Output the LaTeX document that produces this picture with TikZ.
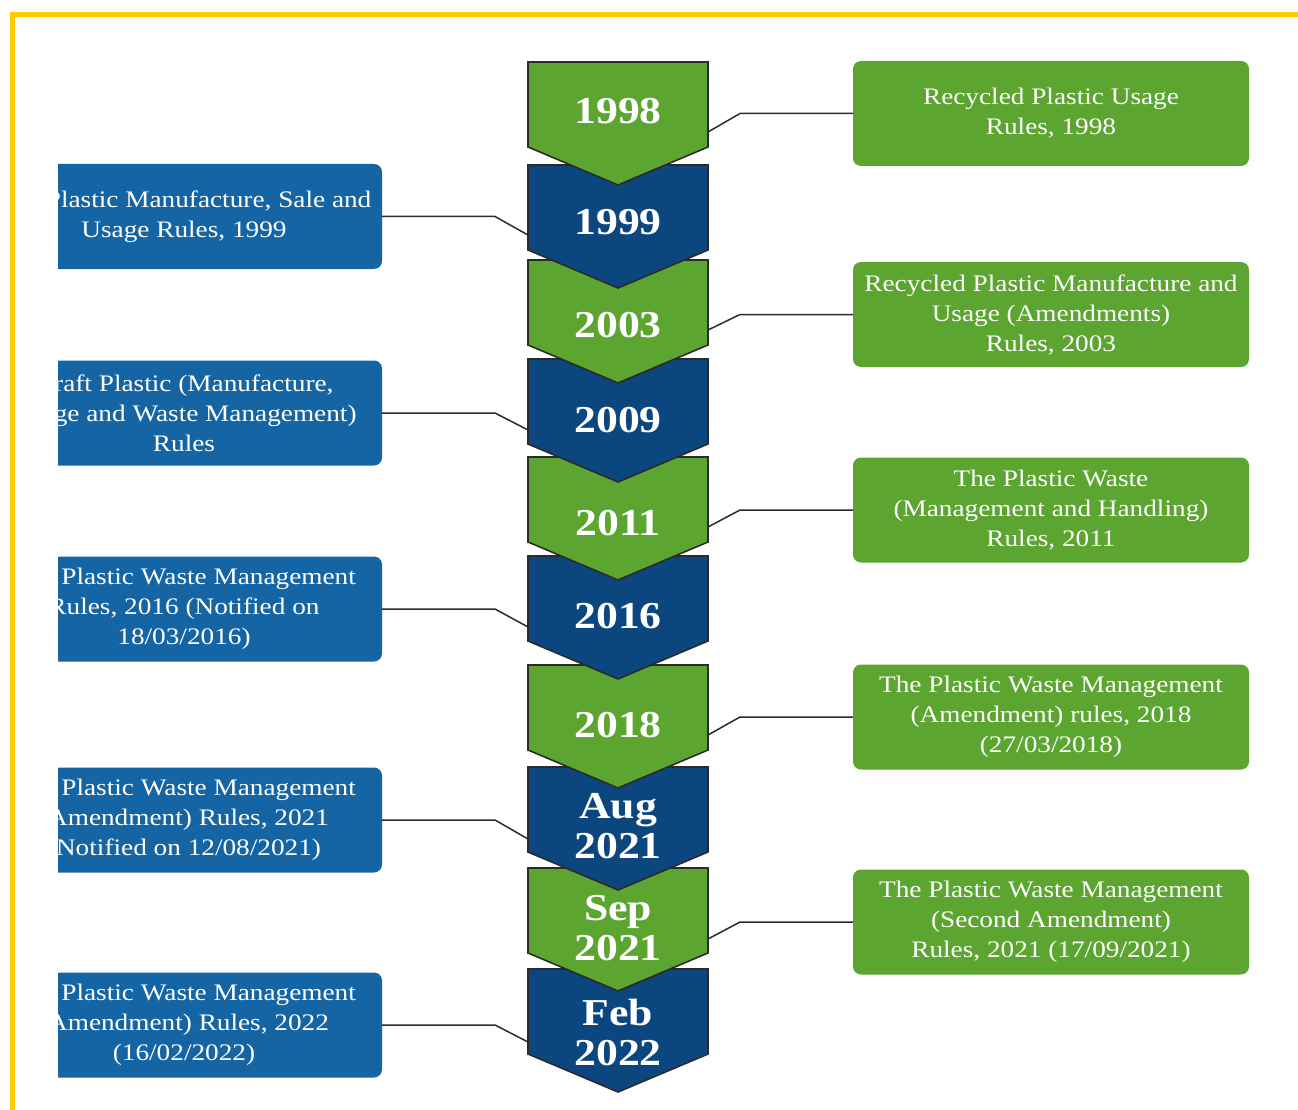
\documentclass[tikz,border=0pt]{standalone}
\usepackage{fontspec}
\setmainfont{Liberation Serif}[FakeStretch=1.15]
\usepackage{tikz}
\usetikzlibrary{shapes,positioning}

\definecolor{LeafGreen}{HTML}{5BA530}
\definecolor{DeepBlue}{HTML}{0B477E}
\definecolor{RuleBlue}{HTML}{1565A5}
\definecolor{FrameGold}{HTML}{FFCB05}
\definecolor{Edge}{HTML}{2B2B2B}

% one down-pointing step of the time line: #1 = top, #2 = fill
\newcommand{\chevron}[2]{%
	\filldraw [Chevron, fill=#2] (528,#1) -- (708,#1) -- (708,#1+85) -- (618,#1+123) -- (528,#1+85) -- cycle;}

\begin{document}
\begin{tikzpicture}[x=1pt,y=-1pt]
			\tikzstyle{Chevron}	= [draw=Edge, line width=1.6pt]
			\tikzstyle{Year}	= [text=white, font=\fontsize{38}{40}\selectfont\bfseries, align=center, inner sep=0pt]
			\tikzstyle{Rule}	= [rounded corners=8pt, minimum width=396pt, minimum height=105pt, inner sep=0pt, text=white, align=center, font=\fontsize{23.7}{30}\selectfont]
			\tikzstyle{GreenRule}	= [Rule, fill=LeafGreen]
			\tikzstyle{BlueRule}	= [Rule, fill=RuleBlue]
			\tikzstyle{Link}	= [draw=Edge, line width=1.5pt]
			
			\useasboundingbox (0,0) rectangle (1298,1110);
			\draw [FrameGold, line width=5pt] (12.5,1110) -- (12.5,14.5) -- (1298,14.5);
			
			% rules on the right
			\node (r1998) at (1051,113.5) [GreenRule] {Recycled Plastic Usage\\Rules, 1998};
			\node (r2003) at (1051,314.5) [GreenRule] {Recycled Plastic Manufacture and\\Usage (Amendments)\\Rules, 2003};
			\node (r2011) at (1051,510) [GreenRule] {The Plastic Waste\\(Management and Handling)\\Rules, 2011};
			\node (r2018) at (1051,717) [GreenRule] {The Plastic Waste Management\\(Amendment) rules, 2018\\(27/03/2018)};
			\node (rSep) at (1051,922) [GreenRule] {The Plastic Waste Management\\(Second Amendment)\\Rules, 2021 (17/09/2021)};
			
			% rules on the left, cut by the page edge
			\begin{scope}
				\clip (58,0) rectangle (1298,1110);
				\node (l1999) at (184,216.5) [BlueRule] {The Plastic Manufacture, Sale and\\Usage Rules, 1999};
				\node (l2009) at (184,413) [BlueRule] {Draft Plastic (Manufacture,\\Usage and Waste Management)\\Rules};
				\node (l2016) at (184,609) [BlueRule] {The Plastic Waste Management\\Rules, 2016 (Notified on\\18/03/2016)};
				\node (lAug) at (184,820) [BlueRule] {The Plastic Waste Management\\(Amendment) Rules, 2021\\(Notified on 12/08/2021)};
				\node (lFeb) at (184,1025) [BlueRule] {The Plastic Waste Management\\(Amendment) Rules, 2022\\(16/02/2022)};
			\end{scope}
			
			% bends and ends of the connectors
			\coordinate (e1998) at (740,113.5);	\coordinate (c1998) at (708,132);
			\coordinate (e2003) at (740,314.5);	\coordinate (c2003) at (708,330);
			\coordinate (e2011) at (740,510);	\coordinate (c2011) at (708,527);
			\coordinate (e2018) at (740,717);	\coordinate (c2018) at (708,735);
			\coordinate (eSep) at (740,922);	\coordinate (cSep) at (708,939);
			\coordinate (e1999) at (495,216.5);	\coordinate (c1999) at (528,235);
			\coordinate (e2009) at (495,413);	\coordinate (c2009) at (528,430);
			\coordinate (e2016) at (495,609);	\coordinate (c2016) at (528,627);
			\coordinate (eAug) at (495,820);	\coordinate (cAug) at (528,839);
			\coordinate (eFeb) at (495,1025);	\coordinate (cFeb) at (528,1042);
			
			\draw [-] (r1998.west) -- (e1998) -- (c1998) [Link];
			\draw [-] (r2003.west) -- (e2003) -- (c2003) [Link];
			\draw [-] (r2011.west) -- (e2011) -- (c2011) [Link];
			\draw [-] (r2018.west) -- (e2018) -- (c2018) [Link];
			\draw [-] (rSep.west) -- (eSep) -- (cSep) [Link];
			\draw [-] (l1999.east) -- (e1999) -- (c1999) [Link];
			\draw [-] (l2009.east) -- (e2009) -- (c2009) [Link];
			\draw [-] (l2016.east) -- (e2016) -- (c2016) [Link];
			\draw [-] (lAug.east) -- (eAug) -- (cAug) [Link];
			\draw [-] (lFeb.east) -- (eFeb) -- (cFeb) [Link];
			
			% time line, bottom step first so each tip lies on the next step
			\chevron{969}{DeepBlue}
			\chevron{868}{LeafGreen}
			\chevron{767}{DeepBlue}
			\chevron{665}{LeafGreen}
			\chevron{556}{DeepBlue}
			\chevron{457}{LeafGreen}
			\chevron{359}{DeepBlue}
			\chevron{260}{LeafGreen}
			\chevron{165}{DeepBlue}
			\chevron{62}{LeafGreen}
			
			\node (y1998) at (618,111) [Year] {1998};
			\node (y1999) at (618,222) [Year] {1999};
			\node (y2003) at (618,325) [Year] {2003};
			\node (y2009) at (618,420) [Year] {2009};
			\node (y2011) at (618,523) [Year] {2011};
			\node (y2016) at (618,616) [Year] {2016};
			\node (y2018) at (618,725) [Year] {2018};
			\node (yAug) at (618,826) [Year] {Aug\\2021};
			\node (ySep) at (618,928) [Year] {Sep\\2021};
			\node (yFeb) at (618,1032) [Year] {Feb\\2022};
			
		\end{tikzpicture}
\end{document}
